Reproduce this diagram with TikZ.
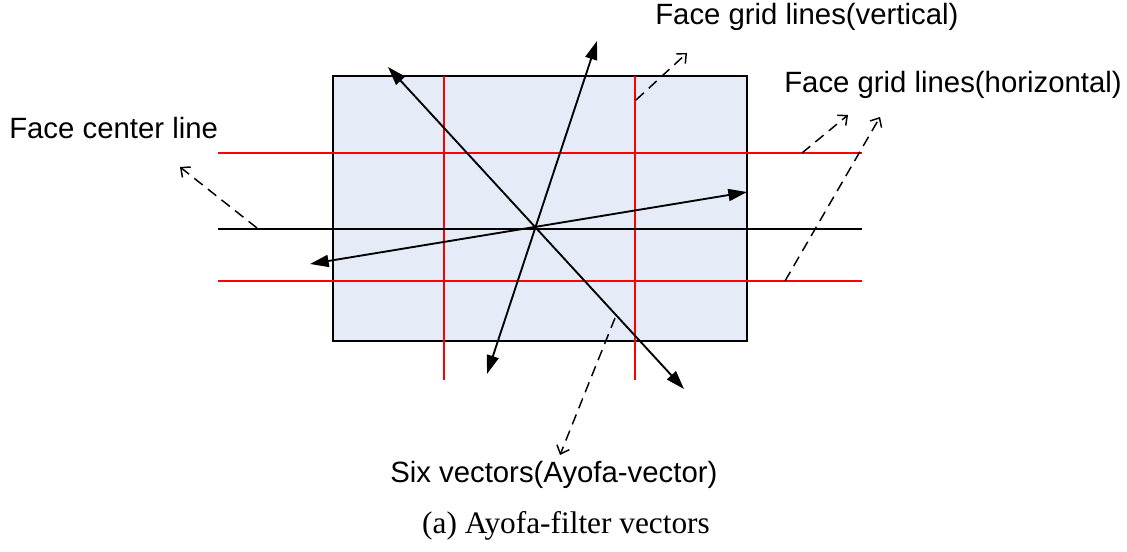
\documentclass[tikz,border=0pt]{standalone}
\usepackage{fontspec}
\setmainfont{Liberation Serif}
\setsansfont{Liberation Sans}
\usepackage{xcolor}
\definecolor{facefill}{HTML}{E6ECF7}
\definecolor{gridred}{HTML}{FF0000}
\usetikzlibrary{arrows.meta}

\tikzstyle{facebox} = [draw=black, line width=1.3pt, fill=facefill]
\tikzstyle{gridline} = [draw=gridred, line width=1.1pt]
\tikzstyle{midline} = [draw=black, line width=1.1pt]
\tikzstyle{facevec} = [
  {Triangle[length=14pt,width=9pt]}-{Triangle[length=14pt,width=9pt]},
  line width=1.4pt
]
\tikzstyle{pointer} = [
  -{Straight Barb[length=5.5pt,width=10pt]},
  dash pattern=on 8pt off 5pt, line width=1.1pt
]
\tikzstyle{facetext} = [
  font=\fontsize{22}{27}\selectfont\sffamily,
  inner sep=0pt, anchor=base west
]

\begin{document}
\begin{tikzpicture}[x=0.75pt, y=-0.75pt]
  \useasboundingbox (0,0) rectangle (1127,552);

  % face with grid
  \draw[facebox] (333,76) rectangle (747,341);
  \draw[gridline] (444,76) -- (444,380);
  \draw[gridline] (635,76) -- (635,380);
  \draw[gridline] (218,153) -- (862,153);
  \draw[gridline] (218,281) -- (862,281);
  \draw[midline] (218,229) -- (862,229);

  % six vectors
  \coordinate (ulend) at (388,67);
  \coordinate (drend) at (684,389);
  \coordinate (upend) at (597,41);
  \coordinate (dlend) at (487,374);
  \coordinate (ltend) at (310,264);
  \coordinate (rtend) at (747,192);
  \draw[facevec] (ulend) -- (drend);
  \draw[facevec] (upend) -- (dlend);
  \draw[facevec] (ltend) -- (rtend);

  % labels
  \node[facetext] (vertlabel)   at (655,25)  {Face grid lines(vertical)};
  \node[facetext] (horizlabel)  at (784,93)  {Face grid lines(horizontal)};
  \node[facetext] (centerlabel) at (9,139)   {Face center line};
  \node[facetext] (sixlabel)    at (390,482) {Six vectors(Ayofa-vector)};
  \node[font=\fontsize{23.5}{28}\selectfont, inner sep=0pt, anchor=base]
    (caption) at (566,533) {(a) Ayofa-filter vectors};

  % pointers
  \coordinate (vertfoot)  at (636,100);
  \coordinate (verttip)   at (687,53);
  \coordinate (hfootA)    at (802,153);
  \coordinate (htipA)     at (848,115);
  \coordinate (hfootB)    at (785,281);
  \coordinate (htipB)     at (880,117);
  \coordinate (cfoot)     at (257,228);
  \coordinate (ctip)      at (180,167);
  \coordinate (sixfoot)   at (615,318);
  \coordinate (sixtip)    at (560,455);
  \draw[pointer] (vertfoot) -- (verttip);
  \draw[pointer] (hfootA) -- (htipA);
  \draw[pointer] (hfootB) -- (htipB);
  \draw[pointer] (cfoot) -- (ctip);
  \draw[pointer] (sixfoot) -- (sixtip);

\end{tikzpicture}
\end{document}
